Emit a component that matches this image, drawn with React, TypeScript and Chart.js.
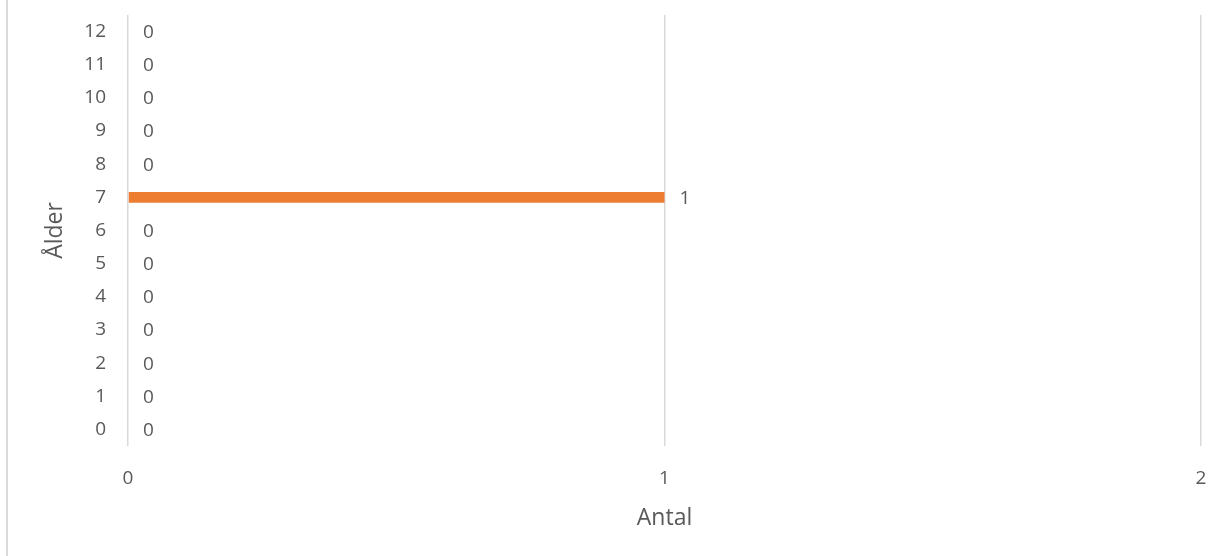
import React, { useEffect, useRef } from "react";
import { Chart, registerables } from "chart.js";

Chart.register(...registerables);

const ages = ["0", "1", "2", "3", "4", "5", "6", "7", "8", "9", "10", "11", "12"];
const counts = [0, 0, 0, 0, 0, 0, 0, 1, 0, 0, 0, 0, 0];
const xTicks = [0, 1, 2];

const FONT = "'Open Sans', 'Noto Sans', sans-serif";
const TEXT = "#595959";

const valueLabels = {
  id: "valueLabels",
  afterDatasetsDraw(chart: any) {
    const ctx = chart.ctx;
    const meta = chart.getDatasetMeta(0);
    ctx.save();
    ctx.font = `19px ${FONT}`;
    ctx.fillStyle = TEXT;
    ctx.textAlign = "left";
    ctx.textBaseline = "middle";
    meta.data.forEach((bar: any, i: number) => {
      const v = chart.data.datasets[0].data[i];
      ctx.fillText(String(v), bar.x + 15, bar.y + 1);
    });
    ctx.restore();
  },
};

export default function App() {
  const ref = useRef<HTMLCanvasElement>(null);
  useEffect(() => {
    if (!ref.current) return;
    const chart = new Chart(ref.current, {
      type: "bar",
      data: {
        labels: ages,
        datasets: [
          {
            data: counts,
            backgroundColor: "#ED7D31",
            borderWidth: 0,
            barPercentage: 0.33,
            categoryPercentage: 1,
          },
        ],
      },
      options: {
        indexAxis: "y",
        animation: false,
        responsive: false,
        maintainAspectRatio: false,
        layout: { padding: { left: 0, right: 24, top: 15, bottom: 0 } },
        plugins: { legend: { display: false }, tooltip: { enabled: false } },
        scales: {
          x: {
            min: 0,
            max: 2,
            afterBuildTicks: (scale: any) => {
              scale.ticks = xTicks.map((v) => ({ value: v }));
            },
            afterFit: (scale: any) => {
              scale.height = 110;
              scale.paddingLeft = 0;
              scale.paddingRight = 0;
            },
            grid: { color: "#d9d9d9", lineWidth: 1.5, drawTicks: false },
            border: { display: false },
            ticks: { color: TEXT, font: { family: FONT, size: 19 }, padding: 21 },
            title: {
              display: true,
              text: "Antal",
              color: TEXT,
              font: { family: FONT, size: 23 },
              padding: { top: 0, bottom: 24 },
            },
          },
          y: {
            reverse: true,
            afterFit: (scale: any) => {
              scale.width = 128;
              scale.paddingTop = 0;
              scale.paddingBottom = 0;
            },
            grid: { display: false, drawTicks: false },
            border: { display: false },
            ticks: { color: TEXT, font: { family: FONT, size: 19 }, padding: 22 },
            title: {
              display: true,
              text: "Ålder",
              color: TEXT,
              font: { family: FONT, size: 23 },
              padding: { top: 42, bottom: 0 },
            },
          },
        },
      },
      plugins: [valueLabels],
    });
    return () => chart.destroy();
  }, []);
  return (
    <div style={{ position: "absolute", left: 0, top: 0, width: 1225, height: 556, background: "#fff" }}>
      <div style={{ position: "absolute", left: 6, top: 0, width: 2, height: 556, background: "#d9d9d9" }} />
      <canvas ref={ref} width={1225} height={556} style={{ position: "absolute", left: 0, top: 0 }} />
    </div>
  );
}
